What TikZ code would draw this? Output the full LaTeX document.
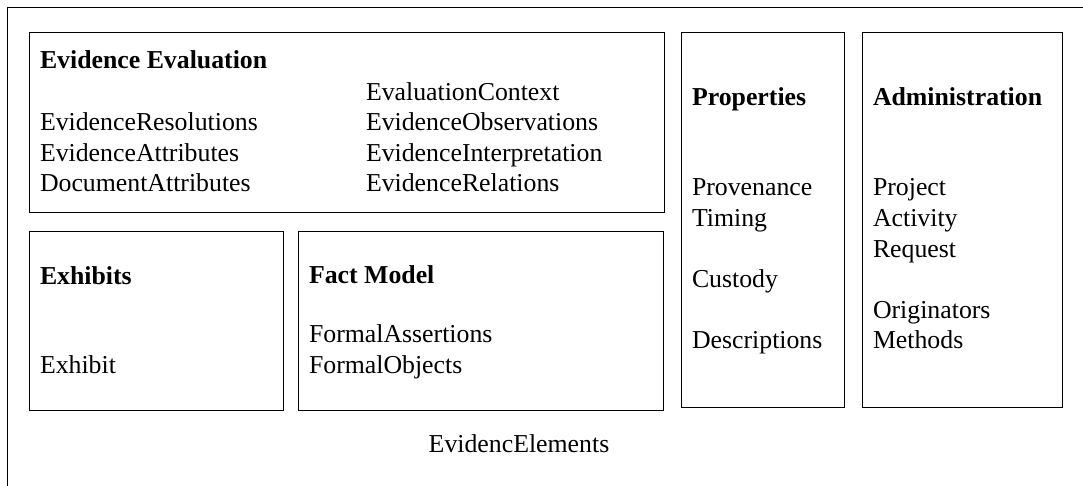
\documentclass[tikz,border=0pt]{standalone}
\usepackage{fontspec}
\setmainfont{Liberation Serif}
\begin{document}
\begin{tikzpicture}[x=1pt,y=-1pt,
  every node/.style={font=\fontsize{25.8}{30.5}\selectfont, inner sep=0pt, outer sep=0pt},
  panel/.style={draw=black, line width=0.9pt, rectangle, anchor=north west},
  item/.style={anchor=base west},
  head/.style={anchor=base west, font=\fontsize{25.8}{30.5}\selectfont\bfseries}]
\useasboundingbox (0,0) rectangle (1083,486);

% open outer frame: top and left edges only
\draw[line width=0.9pt] (7.5,486) -- (7.5,7.5) -- (1083,7.5);

% panels
\node[panel, minimum width=635pt, minimum height=180pt] (eval) at (29,32) {};
\node[panel, minimum width=254pt, minimum height=179pt] (exh) at (29,231) {};
\node[panel, minimum width=365pt, minimum height=179pt] (fact) at (298,231) {};
\node[panel, minimum width=163pt, minimum height=375pt] (prop) at (681,32) {};
\node[panel, minimum width=200pt, minimum height=375pt] (admin) at (862,32) {};

% Evidence Evaluation
\node[head] (evalh) at (40,69) {Evidence Evaluation};
\node[item] (ev1) at (40,131) {EvidenceResolutions};
\node[item] (ev2) at (40,161.5) {EvidenceAttributes};
\node[item] (ev3) at (40,192) {DocumentAttributes};
\node[item] (ev4) at (366,101) {EvaluationContext};
\node[item] (ev5) at (366,131) {EvidenceObservations};
\node[item] (ev6) at (366,161.5) {EvidenceInterpretation};
\node[item] (ev7) at (366,192) {EvidenceRelations};

% Exhibits
\node[head] (exhh) at (40,284) {Exhibits};
\node[item] (ex1) at (40,373) {Exhibit};

% Fact Model
\node[head] (facth) at (309,283) {Fact Model};
\node[item] (fm1) at (309,342) {FormalAssertions};
\node[item] (fm2) at (309,373) {FormalObjects};

% Properties
\node[head] (proph) at (692,106) {Properties};
\node[item] (pr1) at (692,196) {Provenance};
\node[item] (pr2) at (692,226.5) {Timing};
\node[item] (pr3) at (692,287.5) {Custody};
\node[item] (pr4) at (692,348.5) {Descriptions};

% Administration
\node[head] (admh) at (873,106) {Administration};
\node[item] (ad1) at (873,196) {Project};
\node[item] (ad2) at (873,226.5) {Activity};
\node[item] (ad3) at (873,257) {Request};
\node[item] (ad4) at (873,318) {Originators};
\node[item] (ad5) at (873,348.5) {Methods};

% package label
\node[anchor=base] (pkg) at (519,452) {EvidencElements};
\end{tikzpicture}
\end{document}
